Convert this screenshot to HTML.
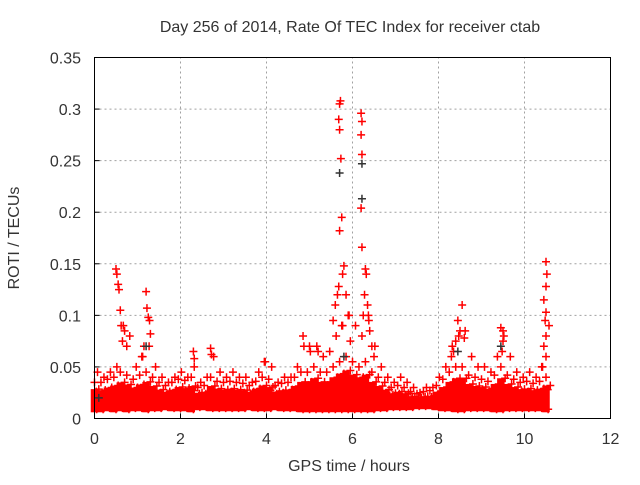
<!DOCTYPE html>
<html><head><meta charset="utf-8"><style>
html,body{margin:0;padding:0;background:#fff}
svg text{font-family:"Liberation Sans",sans-serif;font-size:16px;fill:#333}
</style></head><body>
<svg id="chart" width="640" height="480" viewBox="0 0 640 480" xmlns="http://www.w3.org/2000/svg">
<rect width="640" height="480" fill="#fff"/>
<text x="350" y="32" text-anchor="middle">Day 256 of 2014, Rate Of TEC Index for receiver ctab</text>
<text x="349" y="471" text-anchor="middle">GPS time / hours</text>
<text transform="translate(19,238) rotate(-90)" text-anchor="middle">ROTI / TECUs</text>
<g id="grid"></g>
<g id="marks"></g>
<rect x="94.5" y="57.5" width="516" height="361" fill="none" stroke="#000" stroke-width="1"/>
<g id="ticks"></g>
</svg>
<script>
const xTicks=[0,2,4,6,8,10,12];
const yTicks=[0,0.05,0.1,0.15,0.2,0.25,0.3,0.35];
const yTickLabels=["0","0.05","0.1","0.15","0.2","0.25","0.3","0.35"];
const bandStep=0.15;
const bandHi=[0.045,0.04,0.045,0.05,0.09,0.08,0.05,0.06,0.07,0.05,0.04,0.035,0.04,0.045,0.04,0.05,0.035,0.04,0.06,0.045,0.04,0.045,0.04,0.04,0.035,0.045,0.055,0.05,0.035,0.04,0.04,0.05,0.07,0.065,0.07,0.06,0.065,0.08,0.09,0.1,0.09,0.08,0.1,0.07,0.05,0.04,0.035,0.04,0.035,0.03,0.025,0.03,0.03,0.04,0.05,0.07,0.08,0.085,0.06,0.05,0.05,0.045,0.06,0.08,0.06,0.045,0.04,0.045,0.04,0.05,0.09];
const bandQ3=[0.035,0.035,0.038,0.04,0.045,0.042,0.038,0.042,0.045,0.04,0.035,0.032,0.035,0.038,0.037,0.04,0.03,0.032,0.04,0.036,0.035,0.036,0.035,0.034,0.032,0.036,0.04,0.038,0.032,0.034,0.035,0.04,0.045,0.045,0.05,0.045,0.045,0.05,0.055,0.06,0.055,0.05,0.055,0.045,0.04,0.035,0.03,0.032,0.03,0.026,0.024,0.026,0.027,0.032,0.038,0.045,0.05,0.05,0.042,0.04,0.038,0.036,0.042,0.05,0.042,0.038,0.035,0.036,0.034,0.036,0.04];
const bandMid=[0.022,0.02,0.022,0.024,0.025,0.024,0.022,0.024,0.026,0.023,0.021,0.02,0.021,0.023,0.022,0.023,0.02,0.02,0.023,0.022,0.021,0.022,0.021,0.021,0.02,0.022,0.024,0.023,0.02,0.021,0.021,0.023,0.026,0.026,0.028,0.026,0.026,0.03,0.032,0.033,0.03,0.03,0.03,0.026,0.023,0.021,0.019,0.02,0.019,0.017,0.016,0.017,0.017,0.02,0.023,0.026,0.028,0.028,0.025,0.023,0.023,0.022,0.025,0.028,0.025,0.023,0.022,0.022,0.021,0.022,0.024];
const bandLo=[0.006,0.006,0.007,0.006,0.007,0.006,0.007,0.007,0.006,0.007,0.007,0.008,0.007,0.007,0.007,0.006,0.008,0.008,0.007,0.007,0.007,0.007,0.007,0.007,0.008,0.007,0.007,0.007,0.008,0.007,0.007,0.007,0.006,0.006,0.006,0.006,0.006,0.006,0.006,0.006,0.006,0.006,0.006,0.006,0.007,0.007,0.008,0.008,0.008,0.008,0.009,0.009,0.009,0.008,0.007,0.007,0.006,0.006,0.007,0.007,0.007,0.007,0.006,0.006,0.007,0.007,0.007,0.007,0.007,0.007,0.006];
const spikeT=[0.5,0.52,0.55,0.57,0.6,0.62,0.7,0.65,0.75,1.2,1.22,1.25,1.28,1.3,1.15,1.1,2.3,2.32,2.7,2.72,3.95,4.85,5.0,5.2,5.7,5.72,5.68,5.7,5.73,5.75,5.7,5.8,5.77,5.68,5.65,5.6,5.85,5.9,5.75,5.95,5.55,6.2,6.22,6.2,6.22,6.2,6.22,6.3,6.32,6.28,6.35,6.38,6.25,6.4,6.45,6.5,8.55,8.45,8.5,8.4,8.6,8.35,8.3,9.45,9.5,9.5,9.48,10.5,10.52,10.5,10.45,10.5,10.48,10.5,10.45,10.5,10.4];
const spikeV=[0.145,0.14,0.13,0.125,0.105,0.09,0.085,0.075,0.07,0.123,0.107,0.098,0.095,0.082,0.07,0.06,0.065,0.058,0.068,0.062,0.055,0.08,0.07,0.065,0.305,0.308,0.29,0.28,0.252,0.195,0.182,0.148,0.14,0.128,0.12,0.11,0.12,0.1,0.09,0.075,0.095,0.296,0.288,0.275,0.256,0.204,0.166,0.145,0.14,0.12,0.11,0.095,0.1,0.085,0.07,0.06,0.11,0.095,0.085,0.075,0.078,0.065,0.06,0.088,0.085,0.075,0.065,0.152,0.14,0.128,0.115,0.103,0.095,0.08,0.07,0.06,0.05];
const darkT=[5.7,6.22,6.22,8.45,9.45,1.2,5.8,0.1];
const darkV=[0.238,0.247,0.213,0.065,0.07,0.07,0.06,0.02];

const X0=94.5,X1=610.5,Y0=418.5,Y1=57.5;
const xs=t=>X0+t/12*(X1-X0);
const ys=v=>Y0-v/0.35*(Y0-Y1);
const NS="http://www.w3.org/2000/svg";
const grid=document.getElementById('grid'),marks=document.getElementById('marks'),ticks=document.getElementById('ticks');
function mk(tag,attrs,parent){const e=document.createElementNS(NS,tag);for(const k in attrs)e.setAttribute(k,attrs[k]);parent.appendChild(e);return e;}
xTicks.forEach((t,i)=>{
  const x=xs(t);
  if(i>0&&i<xTicks.length-1){const g=mk('line',{x1:x,x2:x,y1:Y0,y2:Y1,stroke:'#a0a0a0','stroke-dasharray':'2,3'},grid);
  
  }
  const tk=mk('line',{x1:x,x2:x,y1:Y0,y2:Y0-5,stroke:'#000'},ticks);
  
  
  const lb=mk('text',{x:x,y:444,'text-anchor':'middle'},ticks);lb.textContent=String(t);
  
  
});
yTicks.forEach((v,i)=>{
  const y=ys(v);
  if(i>0&&i<yTicks.length-1){const g=mk('line',{x1:X0,x2:X1,y1:y,y2:y,stroke:'#a0a0a0','stroke-dasharray':'2,3'},grid);
  
  }
  const tk=mk('line',{x1:X0,x2:X0+5,y1:y,y2:y,stroke:'#000'},ticks);
  
  
  const lb=mk('text',{x:81,y:y+6,'text-anchor':'end'},ticks);lb.textContent=yTickLabels[i];
  
  
});
function plus(t,v,col,name){
  const x=xs(t),y=ys(v);
  const p=mk('path',{d:`M${x-4},${y}H${x+4}M${x},${y-4}V${y+4}`,stroke:col,'stroke-width':1.5,fill:'none'},marks);
  
  
}
bandHi.forEach((h,i)=>{
  const t=i*bandStep;
  const r=mk('line',{x1:xs(t),x2:xs(t),y1:ys(bandLo[i]),y2:ys((bandMid[i]+bandQ3[i])/2),stroke:'#ff0000','stroke-width':7.5},marks);
  
  
  plus(t+0.04,bandMid[i]+0.004,'#ff0000','roti-point');
  plus(t+0.1,(bandMid[i]+bandQ3[i])/2,'#ff0000','roti-point');
  plus(t,bandQ3[i],'#ff0000','roti-point');
  plus(t+0.07,h,'#ff0000','roti-point');
  plus(t+0.05,bandLo[i]+0.003,'#ff0000','roti-point');
});
spikeT.forEach((t,i)=>plus(t,spikeV[i],'#ff0000','roti-spike-point'));
darkT.forEach((t,i)=>plus(t,darkV[i],'#333333','roti-point-dark'));
</script>
</body></html>
